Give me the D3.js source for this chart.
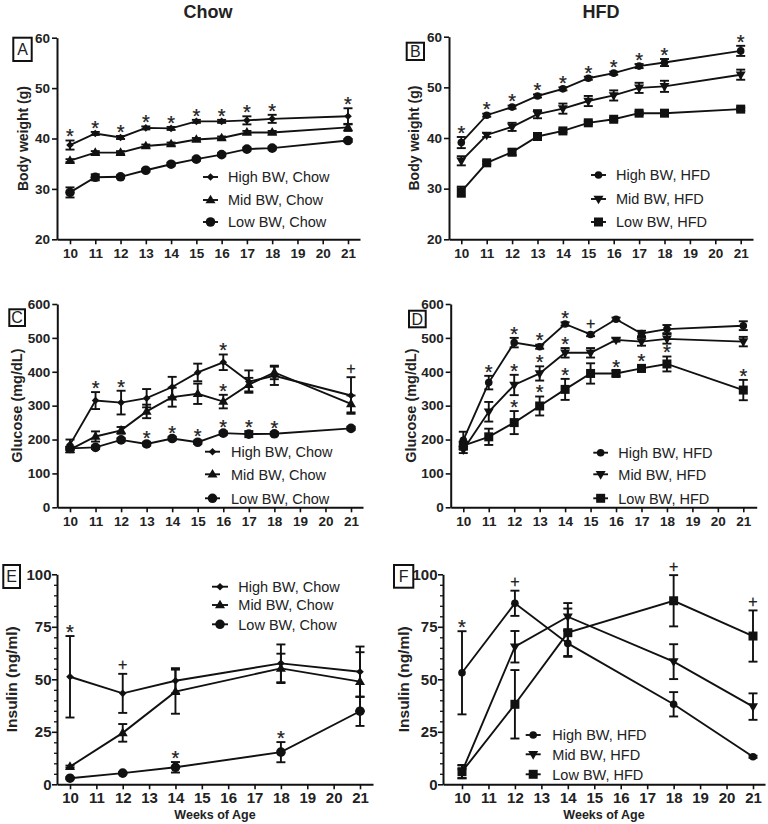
<!DOCTYPE html>
<html><head><meta charset="utf-8">
<script src="https://cdn.jsdelivr.net/npm/d3@7"></script>
<style>
body{margin:0;background:#fff}
svg{display:block}
text{font-family:"Liberation Sans",Arial,Helvetica,sans-serif}
</style>
</head><body>
<svg id="c" width="768" height="824"></svg>
<script>
// ---------------- DATA ----------------
const weeks = [10, 11, 12, 13, 14, 15, 16, 17, 18, 21];
const insulinWeeks = [10, 12, 14, 18, 21];
const xTickWeeks = [10, 11, 12, 13, 14, 15, 16, 17, 18, 19, 20, 21];
const seriesNamesChow = ["High BW, Chow", "Mid BW, Chow", "Low BW, Chow"];
const seriesNamesHFD = ["High BW, HFD", "Mid BW, HFD", "Low BW, HFD"];

// A: Body weight, Chow
const bwChowHigh    = [38.7, 41.0, 40.2, 42.1, 42.0, 43.4, 43.4, 43.6, 43.9, 44.4];
const bwChowHighErr = [0.9, 0.3, 0.3, 0.3, 0.3, 0.3, 0.3, 0.8, 0.8, 1.6];
const bwChowMid     = [35.6, 37.2, 37.2, 38.5, 38.9, 39.8, 40.1, 41.2, 41.2, 42.2];
const bwChowMidErr  = [0.3, 0.3, 0.3, 0.3, 0.3, 0.3, 0.3, 0.3, 0.3, 0.7];
const bwChowLow     = [29.3, 32.3, 32.4, 33.7, 34.9, 35.9, 36.8, 37.9, 38.1, 39.6];
const bwChowLowErr  = [1.0, 0.6, 0.3, 0.3, 0.3, 0.3, 0.3, 0.3, 0.3, 0.3];
const sigA = [[10,0,"*"],[11,0,"*"],[12,0,"*"],[13,0,"*"],[14,0,"*"],[15,0,"*"],[16,0,"*"],[17,0,"*"],[18,0,"*"],[21,0,"*"]];

// B: Body weight, HFD
const bwHfdHigh    = [39.1, 44.5, 46.1, 48.3, 49.7, 51.8, 52.8, 54.2, 54.9, 57.2];
const bwHfdHighErr = [1.1, 0.3, 0.3, 0.3, 0.3, 0.3, 0.3, 0.4, 0.7, 1.0];
const bwHfdMid     = [35.5, 40.6, 42.2, 44.7, 45.8, 47.3, 48.4, 49.9, 50.2, 52.5];
const bwHfdMidErr  = [0.9, 0.4, 0.8, 0.8, 1.0, 1.0, 1.0, 1.0, 1.1, 1.0];
const bwHfdLow     = [29.4, 35.1, 37.2, 40.3, 41.4, 43.0, 43.7, 44.9, 44.9, 45.7];
const bwHfdLowErr  = [1.0, 0.3, 0.6, 0.3, 0.3, 0.3, 0.3, 0.3, 0.3, 0.3];
const sigB = [[10,0,"*"],[11,0,"*"],[12,0,"*"],[13,0,"*"],[14,0,"*"],[15,0,"*"],[16,0,"*"],[17,0,"*"],[18,0,"*"],[21,0,"*"]];

// C: Glucose, Chow
const gluChowHigh    = [185, 315, 309, 322, 355, 398, 428, 371, 388, 330];
const gluChowHighErr = [15, 25, 35, 27, 30, 26, 23, 33, 27, 54];
const gluChowMid     = [170, 209, 227, 283, 325, 335, 312, 362, 398, 305];
const gluChowMidErr  = [8, 15, 10, 20, 28, 30, 20, 20, 20, 25];
const gluChowLow     = [174, 177, 199, 187, 203, 192, 219, 216, 217, 233];
const gluChowLowErr  = [5, 5, 5, 5, 5, 5, 5, 9, 5, 5];
const sigC = [[11,0,"*"],[12,0,"*"],[13,2,"*"],[14,2,"*"],[15,2,"*"],[16,0,"*"],[16,1,"*"],[16,2,"*"],[17,2,"*"],[18,2,"*"],[21,0,"+"]];

// D: Glucose, HFD
const gluHfdHigh    = [198, 368, 486, 474, 541, 510, 555, 513, 526, 536];
const gluHfdHighErr = [25, 20, 14, 6, 5, 5, 5, 8, 12, 13];
const gluHfdMid     = [170, 282, 361, 395, 456, 456, 494, 489, 497, 489];
const gluHfdMidErr  = [10, 29, 30, 21, 14, 14, 5, 12, 14, 14];
const gluHfdLow     = [182, 208, 250, 299, 348, 395, 395, 410, 423, 346];
const gluHfdLowErr  = [12, 24, 34, 28, 31, 30, 8, 10, 22, 30];
const sigD = [[11,0,"*"],[12,0,"*"],[12,1,"*"],[12,2,"*"],[13,0,"*"],[13,1,"*"],[13,2,"*"],[14,0,"*"],[14,1,"*"],[14,2,"*"],[15,0,"+"],[16,2,"*"],[17,2,"*"],[18,2,"*"],[21,2,"*"]];

// E: Insulin, Chow
const insChowHigh    = [51.2, 43.3, 49.3, 57.6, 53.6];
const insChowHighErr = [19.4, 9.3, 6.0, 9.0, 12.0];
const insChowMid     = [8.4, 24.5, 44.1, 55.2, 48.9];
const insChowMidErr  = [0.5, 4.2, 10.5, 7.0, 14.0];
const insChowLow     = [2.9, 5.3, 8.1, 15.3, 34.8];
const insChowLowErr  = [0.5, 0.5, 2.5, 4.8, 7.0];
const sigE = [[10,0,"*"],[12,0,"+"],[14,2,"*"],[18,2,"*"]];

// F: Insulin, HFD
const insHfdHigh    = [53.1, 86.2, 67.1, 38.1, 13.1];
const insHfdHighErr = [19.8, 6.0, 6.0, 5.8, 0.5];
const insHfdMid     = [6.0, 65.5, 79.8, 58.4, 37.0];
const insHfdMidErr  = [3.0, 7.5, 6.5, 8.3, 6.3];
const insHfdLow     = [6.0, 38.1, 72.2, 87.4, 70.6];
const insHfdLowErr  = [3.2, 16.3, 11.5, 12.2, 12.2];
const sigF = [[10,0,"*"],[12,0,"+"],[18,2,"+"],[21,2,"+"]];

const bwTicks = [20, 30, 40, 50, 60];
const gluTicks = [0, 100, 200, 300, 400, 500, 600];
const insTicks = [0, 25, 50, 75, 100];
const insMinorTicks = d3.range(0, 101, 5);

// ---------------- DRAWING ----------------
const svg = d3.select("#c");
const INK = "#111";

function markerPath(shape, s) {
  if (shape === "diamond") return `M0,${-s}L${s},0L0,${s}L${-s},0Z`;
  if (shape === "triUp") { const h = s * 0.866; return `M0,${-h * 0.62}L${s / 2},${h * 0.38}L${-s / 2},${h * 0.38}Z`; }
  if (shape === "triDown") { const h = s * 0.866; return `M0,${h * 0.62}L${s / 2},${-h * 0.38}L${-s / 2},${-h * 0.38}Z`; }
  if (shape === "square") { const r = s / 2; return `M${-r},${-r}H${r}V${r}H${-r}Z`; }
  return `M${s},0A${s},${s} 0 1,1 ${-s},0A${s},${s} 0 1,1 ${s},0Z`;
}

function drawPanel(p) {
  const step = (p.x21 - p.x10) / 11;
  const x = d3.scaleLinear()
    .domain([10 + (p.left - p.x10) / step, 10 + (p.right - p.x10) / step])
    .range([p.left, p.right]);
  const y = d3.scaleLinear().domain(p.yDomain).range([p.bottom, p.top]);
  const g = svg.append("g");

  const gx = g.append("g").attr("transform", `translate(0,${p.bottom})`)
    .call(d3.axisBottom(x).tickValues(xTickWeeks).tickSize(5).tickSizeOuter(0)
      .tickPadding(p.xPad).tickFormat(d3.format("d")));
  const gy = g.append("g").attr("transform", `translate(${p.left},0)`)
    .call(d3.axisLeft(y).tickValues(p.yTicks).tickSize(5).tickSizeOuter(0)
      .tickPadding(p.yPad).tickFormat(d3.format("d")));
  if (p.minor) {
    g.append("g").attr("transform", `translate(${p.left},0)`)
      .call(d3.axisLeft(y).tickValues(p.minor.filter(v => !p.yTicks.includes(v)))
        .tickSize(3).tickSizeOuter(0).tickFormat(""))
      .call(a => a.select(".domain").remove())
      .selectAll("line").attr("stroke", INK).attr("stroke-width", 1.3);
  }
  [gx, gy].forEach(a => {
    a.select(".domain").attr("stroke", INK).attr("stroke-width", 2);
    a.selectAll(".tick line").attr("stroke", INK).attr("stroke-width", 1.6);
    a.selectAll(".tick text").attr("fill", "#222").attr("font-weight", "bold")
      .attr("font-size", p.tickFont + "px")
      .style("font-family", '"Liberation Sans",Arial,sans-serif');
  });

  g.append("text")
    .attr("transform", `translate(${p.ylabelX},${(p.top + p.bottom) / 2}) rotate(-90)`)
    .attr("text-anchor", "middle").attr("font-weight", "bold")
    .attr("font-size", p.ylabelFont + "px").attr("fill", "#222").text(p.ylabel);

  if (p.xlabel) {
    g.append("text").attr("x", p.xlabelX).attr("y", p.xlabelY)
      .attr("text-anchor", "middle").attr("font-weight", "bold")
      .attr("font-size", "12.5px").attr("fill", "#222").text(p.xlabel);
  }

  g.append("rect").attr("x", p.box[0]).attr("y", p.box[1])
    .attr("width", p.box[2]).attr("height", p.box[3])
    .attr("fill", "none").attr("stroke", INK).attr("stroke-width", 2);
  g.append("text").attr("x", p.box[0] + p.box[2] / 2).attr("y", p.box[1] + p.box[3] / 2)
    .attr("dy", "0.36em").attr("text-anchor", "middle").attr("font-size", "16px")
    .attr("fill", "#222").text(p.letter);

  const line = d3.line().x(d => x(d.w)).y(d => y(d.v));
  p.series.forEach(s => {
    const pts = p.weeks.map((w, i) => ({ w, v: s.vals[i], e: s.errs[i] }));
    const sg = g.append("g");
    sg.append("path").datum(pts).attr("d", line).attr("fill", "none")
      .attr("stroke", INK).attr("stroke-width", 1.9);
    const eb = sg.selectAll(".eb").data(pts).join("g");
    eb.append("line").attr("x1", d => x(d.w)).attr("x2", d => x(d.w))
      .attr("y1", d => y(d.v - d.e)).attr("y2", d => y(d.v + d.e))
      .attr("stroke", INK).attr("stroke-width", 1.9);
    [-1, 1].forEach(sgn => {
      eb.append("line").attr("x1", d => x(d.w) - 4.5).attr("x2", d => x(d.w) + 4.5)
        .attr("y1", d => y(d.v + sgn * d.e)).attr("y2", d => y(d.v + sgn * d.e))
        .attr("stroke", INK).attr("stroke-width", 1.9);
    });
    sg.selectAll(".mk").data(pts).join("path")
      .attr("transform", d => `translate(${x(d.w)},${y(d.v)})`)
      .attr("d", markerPath(s.shape, s.size)).attr("fill", INK);
  });

  p.sig.forEach(([w, si, sym]) => {
    const s = p.series[si];
    const i = p.weeks.indexOf(w);
    const top = y(s.vals[i] + s.errs[i]);
    const cy = top - 9;
    const fs = sym === "*" ? 20 : 16;
    const base = sym === "*" ? cy + 0.59 * fs : cy + 0.35 * fs;
    g.append("text").attr("x", x(w)).attr("y", base).attr("text-anchor", "middle")
      .attr("font-size", fs + "px").attr("fill", "#222")
      .attr("stroke", "#222").attr("stroke-width", 0.25).text(sym);
  });

  p.series.forEach((s, k) => {
    const ly = p.legend.rows[k];
    g.append("line").attr("x1", p.legend.x1).attr("x2", p.legend.x2)
      .attr("y1", ly).attr("y2", ly).attr("stroke", INK).attr("stroke-width", 1.9);
    g.append("path").attr("transform", `translate(${(p.legend.x1 + p.legend.x2) / 2},${ly})`)
      .attr("d", markerPath(s.shape, s.size)).attr("fill", INK);
    g.append("text").attr("x", p.legend.tx).attr("y", ly).attr("dy", "0.36em")
      .attr("font-size", "14.5px").attr("fill", "#222").text(s.name);
  });
}

svg.append("text").attr("x", 208).attr("y", 17.5).attr("text-anchor", "middle")
  .attr("font-weight", "bold").attr("font-size", "18px").attr("fill", "#222").text("Chow");
svg.append("text").attr("x", 601).attr("y", 17.5).attr("text-anchor", "middle")
  .attr("font-weight", "bold").attr("font-size", "18px").attr("fill", "#222").text("HFD");

const chowShapes = [["diamond", 3.8], ["triUp", 10], ["circle", 4.8]];
const hfdShapes = [["circle", 3.8], ["triDown", 10], ["square", 9]];
function mk(names, shapes, vals, errs) {
  return names.map((n, i) => ({ name: n, shape: shapes[i][0], size: shapes[i][1], vals: vals[i], errs: errs[i] }));
}

drawPanel({
  letter: "A", box: [13.3, 37.7, 18.4, 23.3],
  left: 57, right: 360, x10: 70, x21: 348, top: 37.7, bottom: 239.3,
  yDomain: [20, 60], yTicks: bwTicks, tickFont: 13.5, xPad: 4, yPad: 2,
  ylabel: "Body weight (g)", ylabelX: 27.5, ylabelFont: 14,
  weeks: weeks, sig: sigA,
  series: mk(seriesNamesChow, chowShapes, [bwChowHigh, bwChowMid, bwChowLow], [bwChowHighErr, bwChowMidErr, bwChowLowErr]),
  legend: { x1: 203, x2: 218, tx: 228, rows: [177, 200, 222] }
});
drawPanel({
  letter: "B", box: [406.7, 42.7, 17.3, 17.3],
  left: 449, right: 753, x10: 461.3, x21: 740.7, top: 36.7, bottom: 239.3,
  yDomain: [20, 60], yTicks: bwTicks, tickFont: 13.5, xPad: 4, yPad: 2,
  ylabel: "Body weight (g)", ylabelX: 419, ylabelFont: 14,
  weeks: weeks, sig: sigB,
  series: mk(seriesNamesHFD, hfdShapes, [bwHfdHigh, bwHfdMid, bwHfdLow], [bwHfdHighErr, bwHfdMidErr, bwHfdLowErr]),
  legend: { x1: 591, x2: 606, tx: 616, rows: [175, 199, 222] }
});
drawPanel({
  letter: "C", box: [9.3, 309.3, 15.7, 16.7],
  left: 57.3, right: 363, x10: 70, x21: 351, top: 304, bottom: 507.3,
  yDomain: [0, 600], yTicks: gluTicks, tickFont: 13.5, xPad: 4, yPad: 2,
  ylabel: "Glucose (mg/dL)", ylabelX: 21.7, ylabelFont: 14.5,
  weeks: weeks, sig: sigC,
  series: mk(seriesNamesChow, chowShapes, [gluChowHigh, gluChowMid, gluChowLow], [gluChowHighErr, gluChowMidErr, gluChowLowErr]),
  legend: { x1: 205, x2: 220, tx: 231, rows: [451.7, 474.3, 498.3] }
});
drawPanel({
  letter: "D", box: [409, 310.7, 16.7, 16.6],
  left: 450.7, right: 756.7, x10: 463.3, x21: 743.3, top: 304, bottom: 507.3,
  yDomain: [0, 600], yTicks: gluTicks, tickFont: 13.5, xPad: 4, yPad: 2,
  ylabel: "Glucose (mg/dL)", ylabelX: 415.7, ylabelFont: 14.5,
  weeks: weeks, sig: sigD,
  series: mk(seriesNamesHFD, hfdShapes, [gluHfdHigh, gluHfdMid, gluHfdLow], [gluHfdHighErr, gluHfdMidErr, gluHfdLowErr]),
  legend: { x1: 593.3, x2: 608, tx: 618.3, rows: [452.7, 474.3, 498.3] }
});
drawPanel({
  letter: "E", box: [3.3, 565, 16.7, 23],
  left: 57, right: 373, x10: 70, x21: 360, top: 574.3, bottom: 784.3,
  yDomain: [0, 100], yTicks: insTicks, minor: insMinorTicks, tickFont: 15, xPad: 3, yPad: 0.5,
  ylabel: "Insulin (ng/ml)", ylabelX: 16.7, ylabelFont: 15.5,
  xlabel: "Weeks of Age", xlabelX: 215, xlabelY: 819,
  weeks: insulinWeeks, sig: sigE,
  series: mk(seriesNamesChow, chowShapes, [insChowHigh, insChowMid, insChowLow], [insChowHighErr, insChowMidErr, insChowLowErr]),
  legend: { x1: 212, x2: 228, tx: 238.3, rows: [586.7, 605, 624.3] }
});
drawPanel({
  letter: "F", box: [394, 565, 19.3, 22.7],
  left: 443, right: 765, x10: 462, x21: 753, top: 574.3, bottom: 784.3,
  yDomain: [0, 100], yTicks: insTicks, minor: insMinorTicks, tickFont: 15, xPad: 3, yPad: 0.5,
  ylabel: "Insulin (ng/ml)", ylabelX: 409, ylabelFont: 15.5,
  xlabel: "Weeks of Age", xlabelX: 604, xlabelY: 819,
  weeks: insulinWeeks, sig: sigF,
  series: mk(seriesNamesHFD, hfdShapes, [insHfdHigh, insHfdMid, insHfdLow], [insHfdHighErr, insHfdMidErr, insHfdLowErr]),
  legend: { x1: 525.7, x2: 540.7, tx: 552.3, rows: [735, 754.3, 774.3] }
});
</script>
</body></html>
